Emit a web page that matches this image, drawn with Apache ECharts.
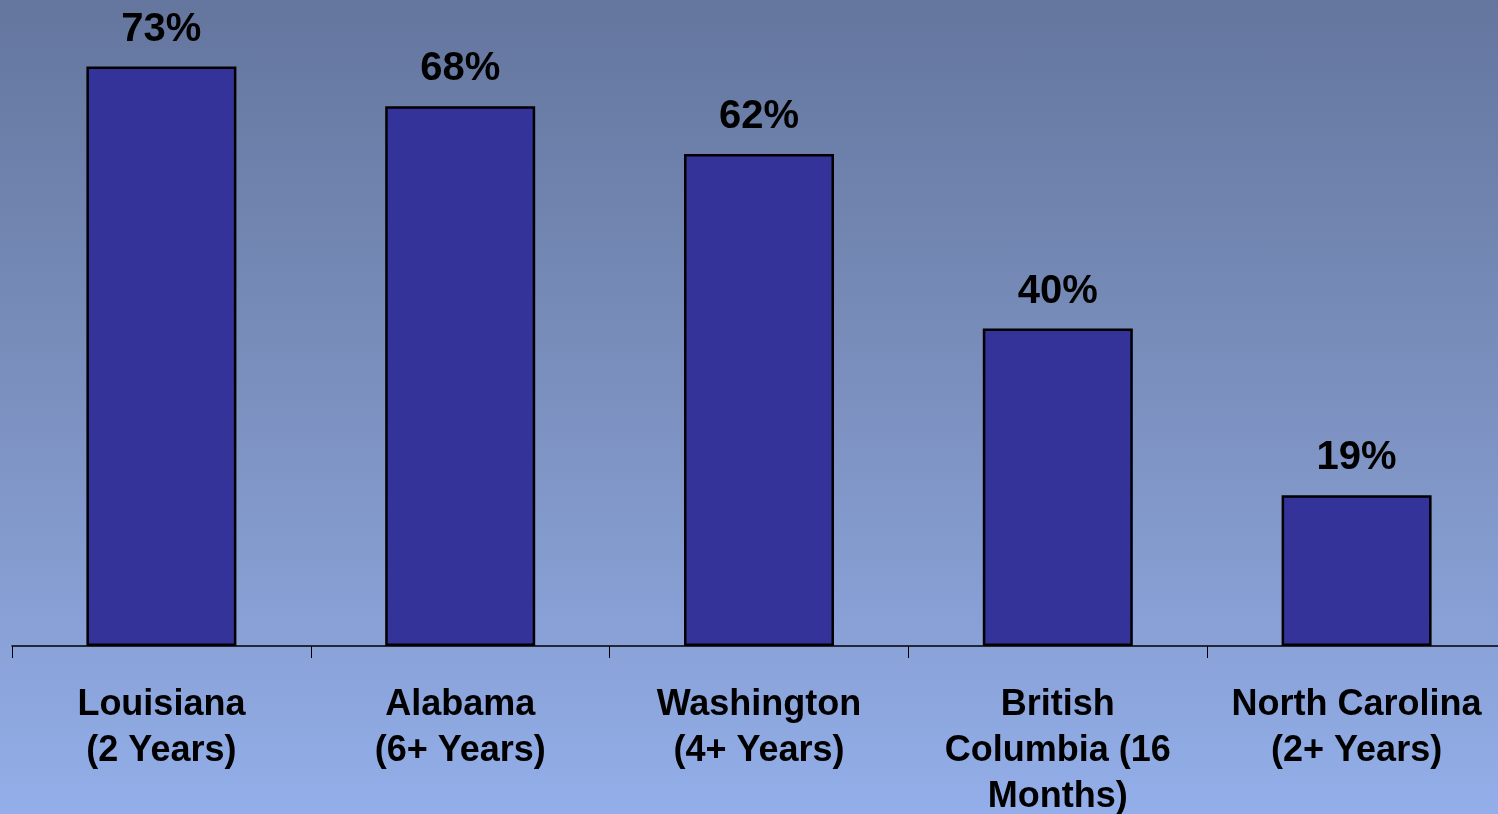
<!DOCTYPE html>
<html>
<head>
<meta charset="utf-8">
<script src="https://cdn.jsdelivr.net/npm/echarts@6/dist/echarts.min.js"></script>
<style>
  html, body { margin: 0; padding: 0; }
  #chart {
    width: 1498px; height: 814px;
    background: linear-gradient(to bottom, #64769e 0%, #7c91c0 50%, #93aee9 100%);
  }
</style>
</head>
<body>
<div id="chart"></div>
<script>
// categories and values
const categories = [
  'Louisiana\n(2 Years)',
  'Alabama\n(6+ Years)',
  'Washington\n(4+ Years)',
  'British\nColumbia (16\nMonths)',
  'North Carolina\n(2+ Years)'
];
const values = [73, 68, 62, 40, 19];

const chart = echarts.init(document.getElementById('chart'));

const option = {
  backgroundColor: 'transparent',
  animation: false,
  grid: { left: 12, top: 11, width: 1494, height: 635, outerBoundsMode: 'none', containLabel: false },
  xAxis: {
    type: 'category',
    data: categories,
    axisLine: { show: true, lineStyle: { color: '#000', width: 1.5 } },
    axisTick: { show: true, length: 12, lineStyle: { color: '#000', width: 1 } },
    axisLabel: {
      color: '#000',
      fontFamily: 'Liberation Sans, Arial, sans-serif',
      fontWeight: 'bold',
      fontSize: 36,
      lineHeight: 46,
      margin: 36,
      interval: 0
    }
  },
  yAxis: {
    type: 'value',
    min: 0,
    max: 80,
    show: false
  },
  series: [{
    type: 'bar',
    data: values,
    barWidth: 150,
    itemStyle: { color: '#333399', borderColor: '#000', borderWidth: 2.5 },
    label: {
      show: true,
      position: 'top',
      distance: 17,
      formatter: '{c}%',
      color: '#000',
      fontFamily: 'Liberation Sans, Arial, sans-serif',
      fontWeight: 'bold',
      fontSize: 40
    }
  }]
};

chart.setOption(option);
</script>
</body>
</html>
